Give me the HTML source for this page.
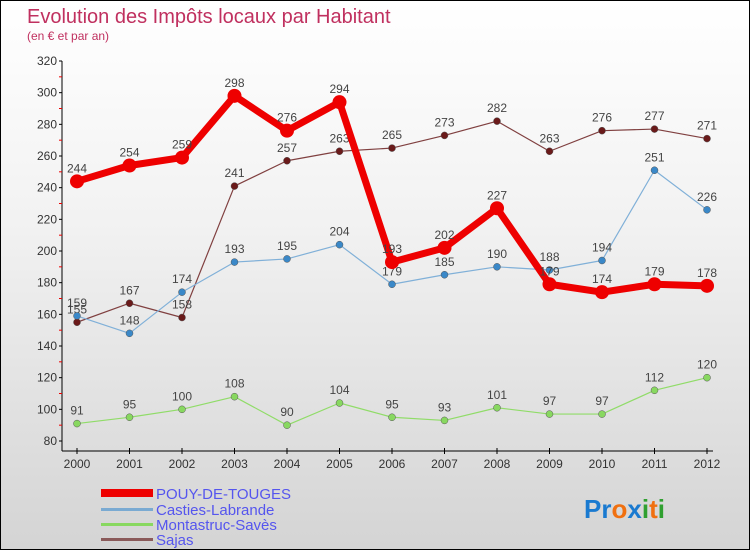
<!DOCTYPE html>
<html><head><meta charset="utf-8"><style>
body{margin:0}
#c{width:750px;height:550px;position:relative;overflow:hidden;background:linear-gradient(#ffffff,#f2f2f2 40%,#d4d4d4);border:1px solid #000;box-sizing:border-box;font-family:"Liberation Sans",sans-serif}
</style></head><body>
<div id="c">
<svg id="s" width="750" height="550" style="position:absolute;left:0;top:0">
<text x="26" y="22" font-size="20" fill="#c0305f">Evolution des Impôts locaux par Habitant</text>
<text x="26" y="39" font-size="12" fill="#c0305f">(en € et par an)</text>
<g id="axes"></g><g id="series"></g>
<g>
<rect x="100" y="488" width="52" height="8" fill="#e00"/>
<text x="155" y="498" font-size="15" fill="#5555ee">POUY-DE-TOUGES</text>
<rect x="100" y="507" width="52" height="3" fill="#7aaad2"/>
<text x="155" y="514" font-size="15" fill="#5555ee">Casties-Labrande</text>
<rect x="100" y="522" width="52" height="3" fill="#88d860"/>
<text x="155" y="529" font-size="15" fill="#5555ee">Montastruc-Savès</text>
<rect x="100" y="537" width="52" height="3" fill="#8a5a5a"/>
<text x="155" y="544" font-size="15" fill="#5555ee">Sajas</text>
</g>
<text x="583" y="517" font-size="26" font-weight="bold"><tspan fill="#1a7ad0">Pr</tspan><tspan fill="#f07010">o</tspan><tspan fill="#1a7ad0">x</tspan><tspan fill="#30a030">i</tspan><tspan fill="#f07010">t</tspan><tspan fill="#30a030">i</tspan></text>
</svg></div>
<script>
const years=["2000","2001","2002","2003","2004","2005","2006","2007","2008","2009","2010","2011","2012"];
const pouy=[244,254,259,298,276,294,193,202,227,179,174,179,178];
const casties=[159,148,174,193,195,204,179,185,190,188,194,251,226];
const montastruc=[91,95,100,108,90,104,95,93,101,97,97,112,120];
const sajas=[155,167,158,241,257,263,265,273,282,263,276,277,271];
const yTicks=[80,100,120,140,160,180,200,220,240,260,280,300,320];
const NS="http://www.w3.org/2000/svg";
const X=i=>76+i*(706-76)/(years.length-1);
const Y=v=>440-(v-80)*(380/240);
function mk(t,a,p){const e=document.createElementNS(NS,t);for(const k in a)e.setAttribute(k,a[k]);p.appendChild(e);return e;}
const ax=document.getElementById('axes');
let l=mk('line',{x1:61,y1:60,x2:61,y2:450,stroke:'#000','stroke-width':1},ax);


l=mk('line',{x1:61,y1:450,x2:712,y2:450,stroke:'#000','stroke-width':1},ax);


yTicks.forEach((v,i)=>{const y=Y(v);mk('line',{x1:58,y1:y,x2:61,y2:y,stroke:'#000'},ax);
if(i<yTicks.length-1)mk('line',{x1:58,y1:Y(v+10),x2:61,y2:Y(v+10),stroke:'#e00'},ax);
const t=mk('text',{x:56,y:y+4,'font-size':12,fill:'#333','text-anchor':'end'},ax);t.textContent=v;

});
years.forEach((yr,i)=>{const x=X(i);mk('line',{x1:x,y1:447,x2:x,y2:453,stroke:'#000'},ax);
const t=mk('text',{x:x,y:467,'font-size':12,fill:'#333','text-anchor':'middle'},ax);t.textContent=yr;

});
const sg=document.getElementById('series');
function draw(data,color,w,r,name,dot){
const g=mk('g',{},sg);


mk('polyline',{points:data.map((v,i)=>X(i)+','+Y(v)).join(' '),fill:'none',stroke:color,'stroke-width':w,'stroke-linejoin':'round'},g);
data.forEach((v,i)=>{const c=mk('circle',{cx:X(i),cy:Y(v),r:r,fill:dot,stroke:r<6?'#555':'none','stroke-width':0.5},g);


const t=mk('text',{x:X(i),y:Y(v)-9,'font-size':12,fill:'#444','text-anchor':'middle'},g);t.textContent=v;

});}
draw(montastruc,'#90dc68',1.2,3.5,'montastruc','#88d860');
draw(sajas,'#804040',1.2,3.5,'sajas','#6a1a1a');
draw(casties,'#80b0d8',1.2,3.5,'casties','#3a88c8');
draw(pouy,'#ee0000',7,7,'pouy','#ee0000');
</script>
</body></html>
